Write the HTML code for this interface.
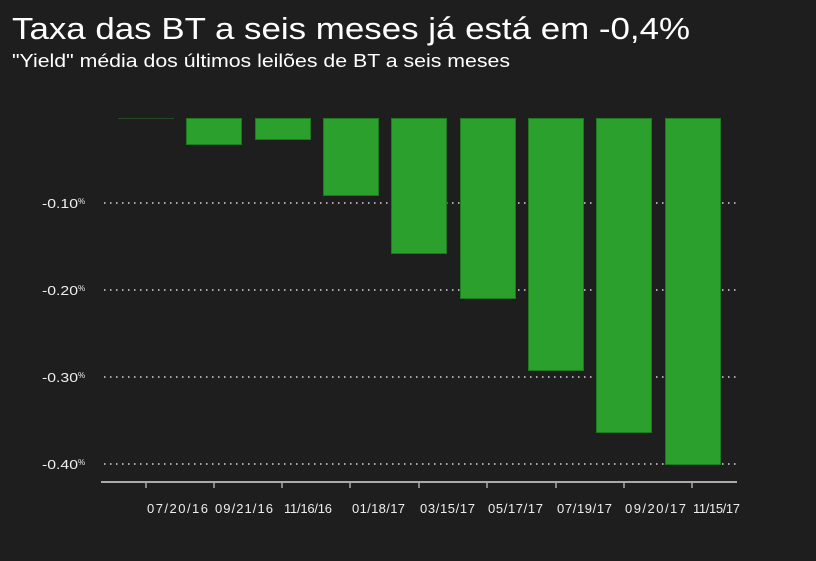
<!DOCTYPE html>
<html><head><meta charset="utf-8"><style>
body{margin:0;background:#1e1e1e;width:816px;height:561px;overflow:hidden;font-family:"Liberation Sans",sans-serif;color:#fff}
</style></head><body>
<svg width="816" height="561" xmlns="http://www.w3.org/2000/svg" style="position:absolute;left:0;top:0">
<rect width="816" height="561" fill="#1e1e1e"/>
<text x="12" y="39" font-size="31" fill="#fff" font-family="Liberation Sans, sans-serif" textLength="678" lengthAdjust="spacingAndGlyphs">Taxa das BT a seis meses já está em -0,4%</text>
<text x="12" y="67" font-size="18" fill="#fff" font-family="Liberation Sans, sans-serif" textLength="498" lengthAdjust="spacingAndGlyphs">"Yield" média dos últimos leilões de BT a seis meses</text>
<g stroke="#aaa" stroke-width="2" stroke-dasharray="1.5 4.5">
<line x1="104" y1="203" x2="737" y2="203"/>
<line x1="104" y1="290" x2="737" y2="290"/>
<line x1="104" y1="377" x2="737" y2="377"/>
<line x1="104" y1="464" x2="737" y2="464"/>
</g>
<g fill="#2ca02c" stroke="#1f7a1f" stroke-width="1">
<rect x="118" y="118" width="56" height="1" fill="#254a25" stroke="none"/>
<rect x="186.5" y="118.5" width="55" height="26"/>
<rect x="255.5" y="118.5" width="55" height="21"/>
<rect x="323.5" y="118.5" width="55" height="77"/>
<rect x="391.5" y="118.5" width="55" height="135"/>
<rect x="460.5" y="118.5" width="55" height="180"/>
<rect x="528.5" y="118.5" width="55" height="252"/>
<rect x="596.5" y="118.5" width="55" height="314"/>
<rect x="665.5" y="118.5" width="55" height="346"/>
</g>
<line x1="101" y1="482" x2="737" y2="482" stroke="#aaa" stroke-width="2"/>
<g stroke="#aaa" stroke-width="1.5">
<line x1="146" y1="482" x2="146" y2="488"/><line x1="214" y1="482" x2="214" y2="488"/>
<line x1="282" y1="482" x2="282" y2="488"/><line x1="350" y1="482" x2="350" y2="488"/>
<line x1="419" y1="482" x2="419" y2="488"/><line x1="487" y1="482" x2="487" y2="488"/>
<line x1="556" y1="482" x2="556" y2="488"/><line x1="624" y1="482" x2="624" y2="488"/>
<line x1="692" y1="482" x2="692" y2="488"/>
</g>
<g fill="#eee" font-size="13" font-family="Liberation Sans, sans-serif" lengthAdjust="spacingAndGlyphs">
<text x="147" y="513" textLength="61">07/20/16</text><text x="215" y="513" textLength="58">09/21/16</text>
<text x="284" y="513" textLength="48">11/16/16</text><text x="352" y="513" textLength="53">01/18/17</text>
<text x="420" y="513" textLength="55">03/15/17</text><text x="488" y="513" textLength="55">05/17/17</text>
<text x="557" y="513" textLength="55">07/19/17</text><text x="625" y="513" textLength="61">09/20/17</text>
<text x="693" y="513" textLength="47">11/15/17</text>
</g>
<g fill="#eee" font-size="13" font-family="Liberation Sans, sans-serif">
<text x="42" y="208"><tspan textLength="36" lengthAdjust="spacingAndGlyphs">-0.10</tspan><tspan font-size="8" dy="-4">%</tspan></text>
<text x="42" y="295"><tspan textLength="36" lengthAdjust="spacingAndGlyphs">-0.20</tspan><tspan font-size="8" dy="-4">%</tspan></text>
<text x="42" y="382"><tspan textLength="36" lengthAdjust="spacingAndGlyphs">-0.30</tspan><tspan font-size="8" dy="-4">%</tspan></text>
<text x="42" y="469"><tspan textLength="36" lengthAdjust="spacingAndGlyphs">-0.40</tspan><tspan font-size="8" dy="-4">%</tspan></text>
</g>
</svg>
</body></html>
